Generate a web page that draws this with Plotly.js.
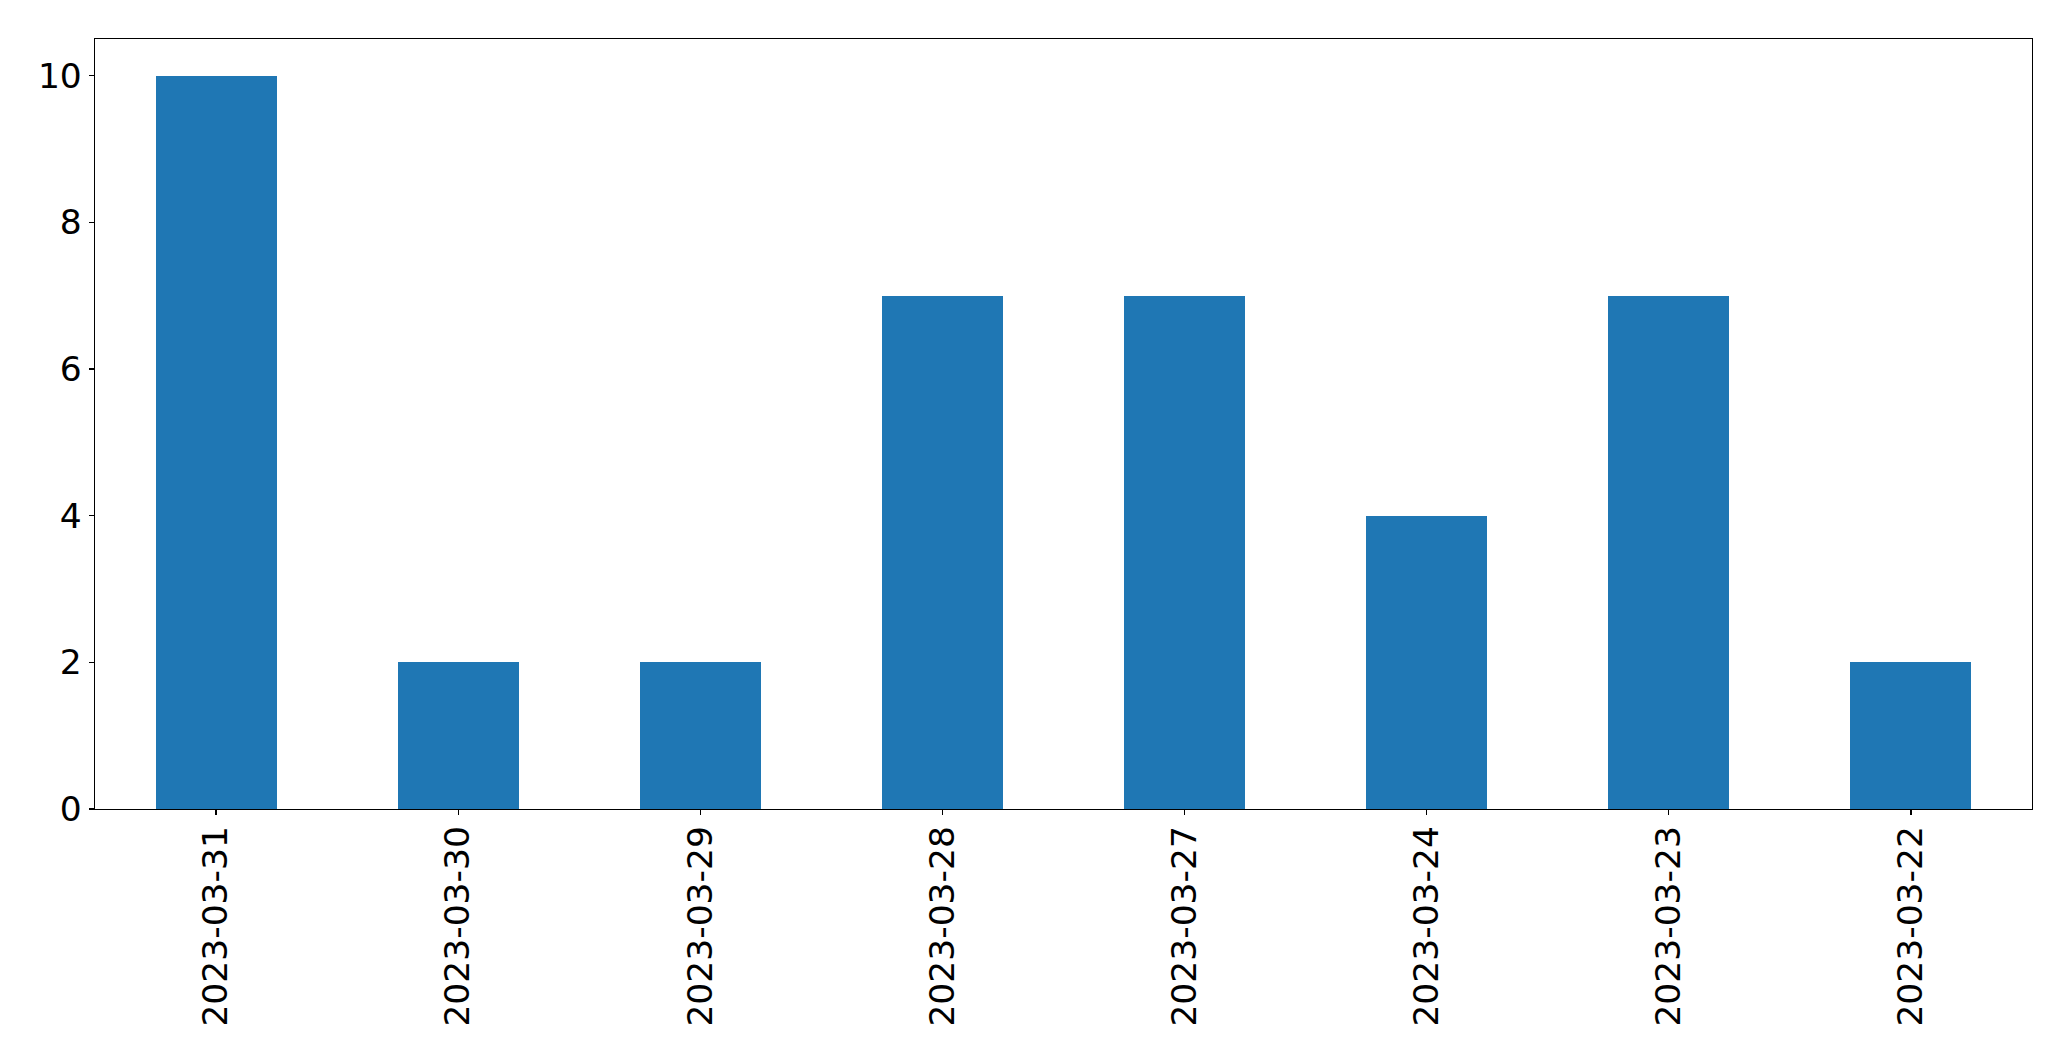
<!DOCTYPE html>
<html>
<head>
<meta charset="utf-8">
<script src="https://cdn.plot.ly/plotly-3.0.1.min.js"></script>
<style>html,body{margin:0;padding:0;background:#fff;}#chart{width:2071px;height:1061px;}</style>
</head>
<body>
<div id="chart"></div>
<script>
const dates = ["2023-03-31","2023-03-30","2023-03-29","2023-03-28","2023-03-27","2023-03-24","2023-03-23","2023-03-22"];
const counts = [10, 2, 2, 7, 7, 4, 7, 2];
const yTicks = [0, 2, 4, 6, 8, 10];

const trace = {
  type: 'bar',
  x: dates,
  y: counts,
  width: 0.5,
  marker: {color: '#1f77b4', line: {width: 0}},
  hoverinfo: 'x+y'
};

const font = {family: 'DejaVu Sans, sans-serif', size: 34.5, color: '#000'};

const layout = {
  width: 2071,
  height: 1061,
  margin: {l: 95, r: 39, t: 39, b: 252, pad: 0},
  paper_bgcolor: '#fff',
  plot_bgcolor: '#fff',
  showlegend: false,
  font: font,
  bargap: 0,
  xaxis: {
    type: 'category',
    range: [-0.5, 7.5],
    showgrid: false,
    zeroline: false,
    showline: true,
    mirror: true,
    linecolor: '#000',
    linewidth: 1.3,
    ticks: 'outside',
    ticklen: 5,
    tickwidth: 1.3,
    tickcolor: '#000',
    tickangle: -90,
    tickfont: font,
    ticklabelstandoff: -3
  },
  yaxis: {
    range: [0, 10.5],
    tickvals: yTicks,
    ticktext: yTicks.map(String),
    showgrid: false,
    zeroline: false,
    showline: true,
    mirror: true,
    linecolor: '#000',
    linewidth: 1.3,
    ticks: 'outside',
    ticklen: 5,
    tickwidth: 1.3,
    tickcolor: '#000',
    tickfont: font,
    ticklabelstandoff: 0
  }
};

Plotly.newPlot('chart', [trace], layout, {displayModeBar: false, staticPlot: true});
</script>
</body>
</html>
